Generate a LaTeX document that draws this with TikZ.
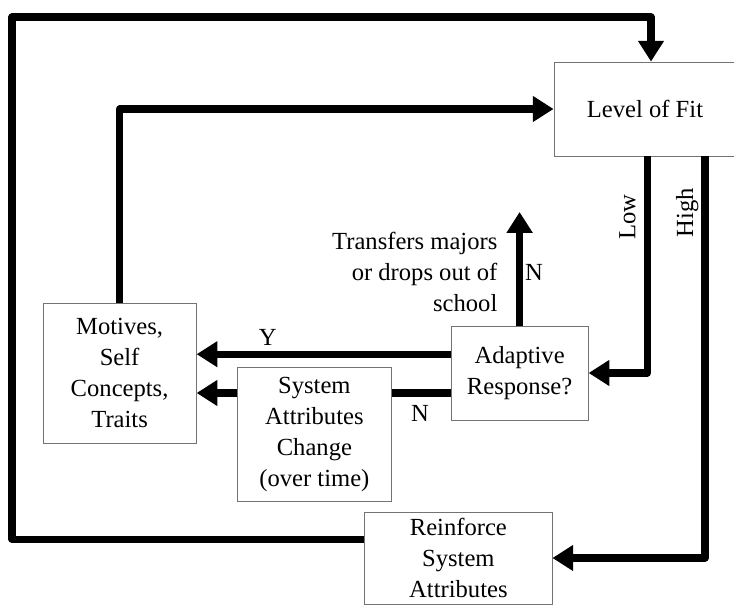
\documentclass[tikz,border=0pt]{standalone}
\usepackage{fontspec}
\setmainfont{Liberation Serif}
\usetikzlibrary{arrows.meta,positioning}

\begin{document}
\begin{tikzpicture}[
  font=\fontsize{17.5}{22}\selectfont,
  box/.style={draw=black!55,line width=0.6pt,fill=white,align=center,inner sep=2pt},
  flow/.style={-{Triangle[length=5.2mm,width=6.2mm]},line width=5pt,line join=round},
  side/.style={rotate=90,anchor=south,inner sep=2pt,text depth=4pt}
]
  \useasboundingbox (0,0) rectangle (18.35,15.15);

  \node[box,minimum width=4.55cm,minimum height=2.35cm] (fit) at (16.125,12.425)
    {Level of Fit};
  \node[box,minimum width=3.83cm,minimum height=3.5cm] (motives) at (2.99,5.825)
    {Motives,\\Self\\Concepts,\\Traits};
  \node[box,minimum width=3.43cm,minimum height=2.35cm] (adapt) at (12.99,5.825)
    {Adaptive\\Response?};
  \node[box,minimum width=4.68cm,minimum height=2.3cm] (reinforce) at (11.46,1.2)
    {Reinforce\\System\\Attributes};
  \coordinate (exit) at (12.99,9.85);

  \draw[flow] ([yshift=4.7mm]reinforce.west) -| (0.3,14.725) -| ([xshift=1.5mm]fit.north);
  \draw[flow] (motives.north) |- (fit.west);
  \draw[flow] ([xshift=0.6mm]fit.south) |- node[side,pos=0.14] {Low} (adapt.east);
  \draw[flow] ([xshift=15mm]fit.south) |- node[side,pos=0.07] {High} (reinforce.east);

  \draw[flow] (adapt.north) -- node[pos=0.47,left=10pt,align=right]
    {Transfers majors\\or drops out of\\school}
    node[pos=0.47,right=1.5pt,inner sep=0pt] {N} (exit);
  \draw[flow] ([yshift=4.7mm]adapt.west) -- node[pos=0.72,above] {Y} ([yshift=4.7mm]motives.east);
  \draw[flow] ([yshift=-5mm]adapt.west) -- node[pos=0.12,below=3pt] {N} ([yshift=-5mm]motives.east);

  \node[box,minimum width=3.83cm,minimum height=3.33cm] (system) at (7.86,4.29)
    {System\\Attributes\\Change\\(over time)};
\end{tikzpicture}
\end{document}
